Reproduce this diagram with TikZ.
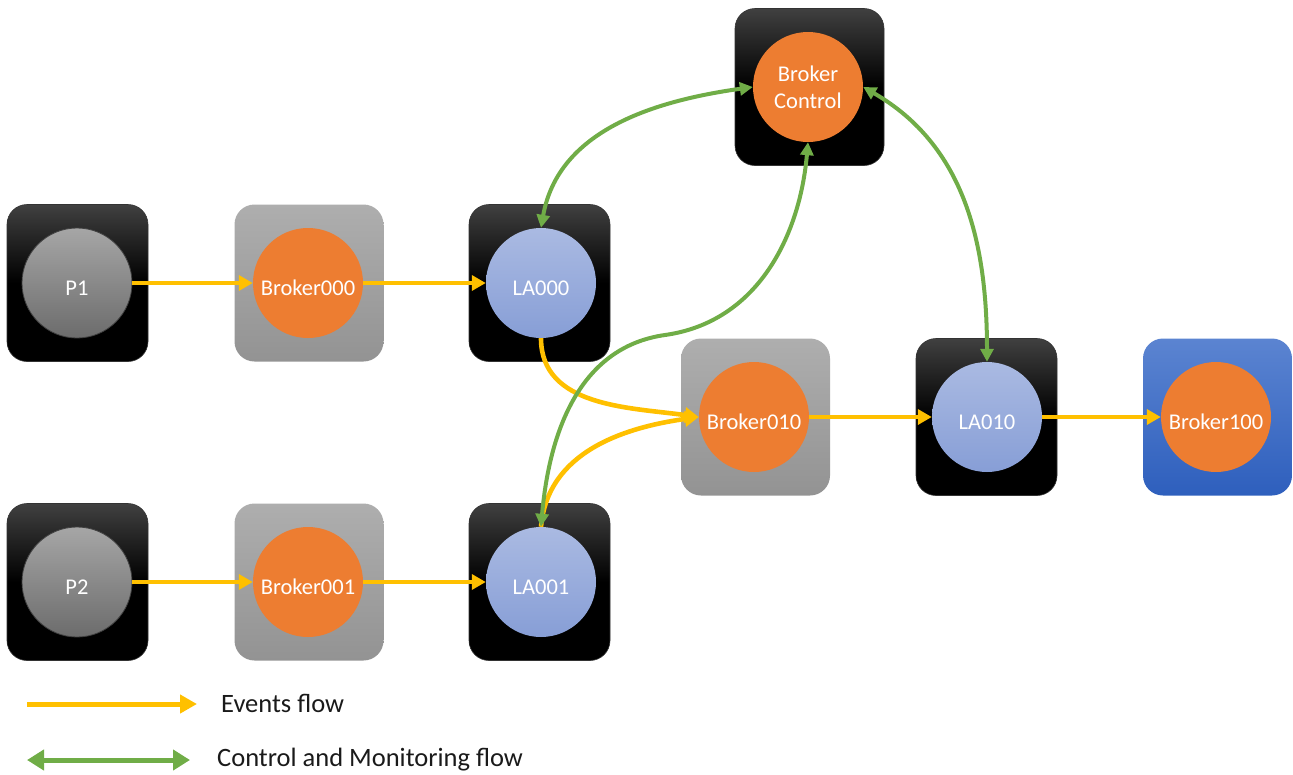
\documentclass[tikz,border=0pt]{standalone}
\usepackage{fontspec}
\setmainfont{Carlito}
\usetikzlibrary{arrows.meta}

\definecolor{evc}{HTML}{FFC000}
\definecolor{ctlc}{HTML}{70AD47}
\definecolor{orangec}{HTML}{ED7D31}
\definecolor{darktop}{HTML}{404040}
\definecolor{greytop}{HTML}{AEAEAE}
\definecolor{greybot}{HTML}{939393}
\definecolor{bluetop}{HTML}{5B84D1}
\definecolor{bluebot}{HTML}{2E5FBD}
\definecolor{ptop}{HTML}{A6A6A6}
\definecolor{pbot}{HTML}{6C6C6C}
\definecolor{latop}{HTML}{AABAE2}
\definecolor{labot}{HTML}{879ED6}
\definecolor{legtext}{HTML}{1A1A1A}

\tikzset{
  box/.style={rectangle, rounded corners=20pt, minimum height=157pt, inner sep=0pt},
  darkbox/.style={box, minimum width=141pt, top color=darktop, bottom color=black,
    middle color=black, draw=black!80, line width=0.6pt},
  greybox/.style={box, minimum width=149pt, top color=greytop, bottom color=greybot},
  bluebox/.style={box, minimum width=149pt, top color=bluetop, bottom color=bluebot},
  ball/.style={circle, minimum size=110pt, inner sep=0pt, text=white,
    font=\fontsize{22.5}{27}\selectfont, align=center},
  % single-line labels sit a little below the centre of the disc
  low/.style={text height=24pt, text depth=0pt},
  pball/.style={ball, low, top color=ptop, bottom color=pbot, draw=black!75, line width=0.8pt},
  oball/.style={ball, fill=orangec},
  lball/.style={ball, low, top color=latop, bottom color=labot},
  ev/.style={draw=evc, line width=4.6pt, -{Triangle[length=14pt,width=15pt]}},
  ctl/.style={draw=ctlc, line width=4pt,
    {Triangle[length=13pt,width=13pt]}-{Triangle[length=13pt,width=13pt]}},
  legtxt/.style={anchor=west, inner sep=0pt, text=legtext, font=\fontsize{26.5}{31}\selectfont},
}

\begin{document}
\begin{tikzpicture}[x=1pt, y=1pt]
\useasboundingbox (0,0) rectangle (1293,-774);

% containers
\node[darkbox] (p1box)   at (77.5,-283) {};
\node[greybox] (b000box) at (309,-283) {};
\node[darkbox] (la000box) at (539.5,-283) {};
\node[darkbox, minimum width=149pt] (bcbox) at (809.5,-87) {};
\node[greybox] (b010box) at (755.5,-417) {};
\node[darkbox] (la010box) at (986.5,-417) {};
\node[bluebox] (b100box) at (1217.5,-417) {};
\node[darkbox] (p2box)   at (77.5,-582) {};
\node[greybox] (b001box) at (309,-582) {};
\node[darkbox] (la001box) at (539.5,-582) {};

% components
\node[pball] (p1)    at (77,-283) {P1};
\node[oball, low] (b000)  at (308,-283) {Broker000};
\node[lball] (la000) at (541,-283) {LA000};
\node[oball] (bc)    at (808,-87) {Broker\\Control};
\node[oball, low] (b010)  at (754,-417) {Broker010};
\node[lball] (la010) at (987,-417) {LA010};
\node[oball, low] (b100)  at (1216,-417) {Broker100};
\node[pball] (p2)    at (77,-582) {P2};
\node[oball, low] (b001)  at (308,-582) {Broker001};
\node[lball] (la001) at (541,-582) {LA001};

% event flow
\draw[ev] (p1) -- (b000);
\draw[ev] (b000) -- (la000);
\draw[ev] (p2) -- (b001);
\draw[ev] (b001) -- (la001);
\draw[ev] (la000.south) to[out=-90, in=172] (b010.west);
\draw[ev] (la001.north) to[out=85, in=188] (b010.west);
\draw[ev] (b010) -- (la010);
\draw[ev] (la010) -- (b100);

% control and monitoring flow
\coordinate (bend) at (665,-335);
\draw[ctl] (la000.north) to[out=80, in=188] (bc.west);
\draw[ctl] (bc.south) to[out=-95, in=8] (bend) to[out=188, in=85] (la001.north);
\draw[ctl] (bc.east) to[out=-30, in=90] (la010.north);

% legend
\coordinate (evA) at (27,-704);
\coordinate (evB) at (197,-704);
\coordinate (ctA) at (27,-760);
\coordinate (ctB) at (190,-760);
\draw[draw=evc, line width=5pt, -{Triangle[length=17pt,width=18pt]}] (evA) -- (evB);
\draw[draw=ctlc, line width=5pt,
  {Triangle[length=17pt,width=20pt]}-{Triangle[length=17pt,width=20pt]}] (ctA) -- (ctB);
\node[legtxt] (evlbl) at (221,-703) {Events flow};
\node[legtxt] (ctlbl) at (217,-760) {Control and Monitoring flow};
\end{tikzpicture}
\end{document}
